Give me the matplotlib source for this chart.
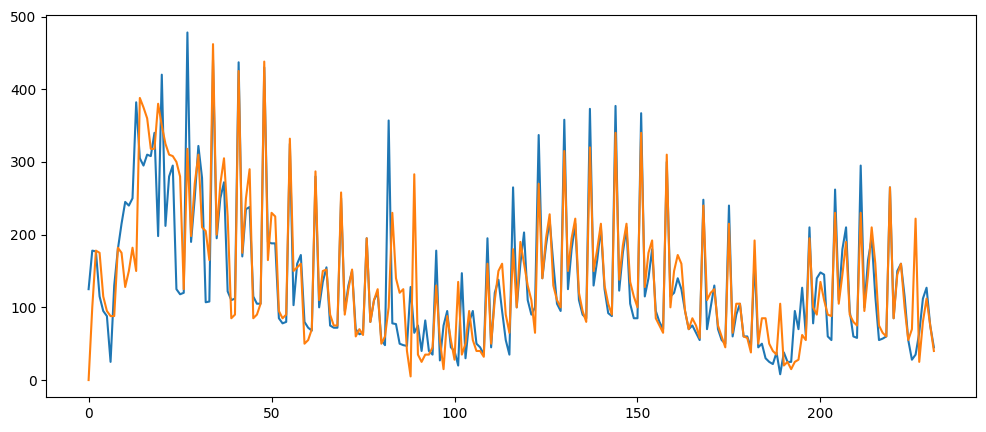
import matplotlib
matplotlib.use("Agg")
import matplotlib.pyplot as plt

s1 = [125,178,177,115,95,88,25,130,180,215,245,240,250,382,305,295,310,308,340,198,
420,212,280,295,125,118,120,478,190,250,322,278,107,108,440,195,250,272,122,110,
112,437,170,235,238,115,105,105,430,190,188,188,85,78,80,325,103,160,172,80,
72,68,280,100,135,155,75,72,72,250,95,130,150,70,63,65,195,80,110,120,
55,48,357,78,77,50,48,47,128,65,75,40,82,40,35,178,27,75,95,45,
40,20,147,30,80,95,50,45,35,195,45,120,138,95,55,35,265,100,160,203,
110,90,100,337,140,185,220,160,105,95,358,125,180,215,110,90,85,373,130,165,
210,125,92,88,377,123,175,210,105,85,85,367,115,140,180,95,80,70,300,115,
120,140,125,95,70,75,65,55,248,70,100,130,70,55,50,240,60,90,105,60,60,45,165,
45,50,30,25,22,38,8,38,25,25,95,70,127,62,210,78,140,148,145,60,
55,262,110,180,210,95,60,58,295,100,165,195,115,55,57,60,265,85,150,160,115,
55,28,35,65,112,127,75,45]

s2 = [0,100,178,175,115,95,88,88,182,175,128,150,182,150,388,375,360,318,318,380,
350,325,310,308,300,280,125,318,198,270,310,210,205,165,462,200,270,305,225,85,
90,425,175,250,290,85,90,105,438,165,230,225,95,85,90,332,150,155,160,50,
55,70,287,110,150,152,90,75,75,258,90,125,152,60,70,62,195,80,110,125,
50,60,100,230,140,120,125,40,5,283,35,25,35,35,45,130,55,15,88,55,
28,135,35,50,95,55,40,40,32,160,50,110,150,160,90,65,180,100,190,160,
130,110,65,270,140,195,228,130,110,100,315,150,195,222,120,95,80,320,150,180,
215,130,105,90,340,138,185,215,135,115,100,340,128,175,192,85,75,65,310,100,
150,172,160,95,70,85,75,58,240,110,120,125,75,60,45,215,65,105,105,60,58,38,192,
50,85,85,50,40,35,105,20,25,15,25,28,62,55,195,100,90,135,110,90,
88,230,105,145,190,90,80,75,230,95,145,210,160,75,65,60,265,85,145,160,100,
55,70,222,25,80,112,75,40]

x = list(range(len(s1)))
fig, ax = plt.subplots(figsize=(9.86, 4.32), dpi=100)
ax.plot(x, s1, color="#1f77b4")
ax.plot(x, s2, color="#ff7f0e")
ax.set_position([0.047, 0.08, 0.943, 0.885])
fig.savefig("out.png")
